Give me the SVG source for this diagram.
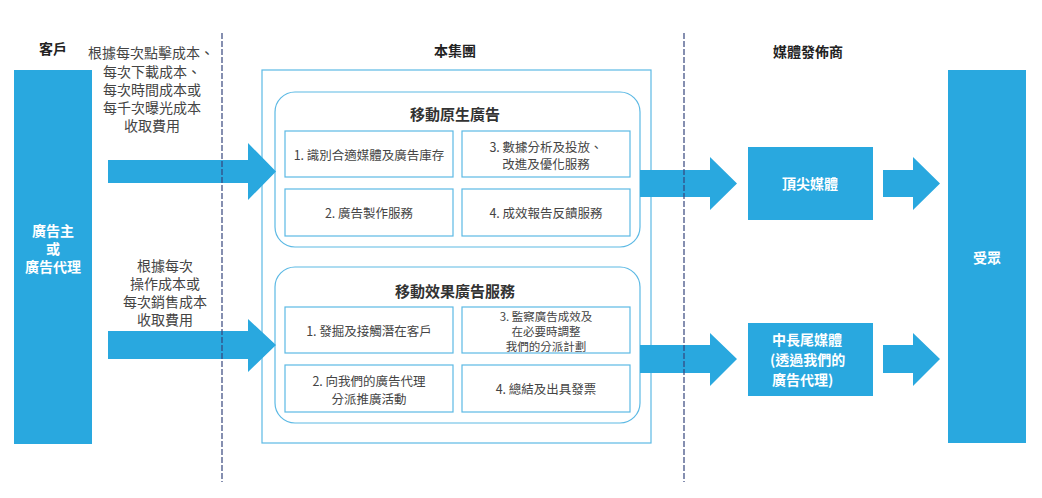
<svg xmlns="http://www.w3.org/2000/svg" width="1042" height="498" viewBox="0 0 1042 498">
<style>
text{font-family:"Noto Sans CJK TC","Noto Sans CJK SC",sans-serif;text-anchor:middle;dominant-baseline:central}
.hdr{font-size:14px;font-weight:bold;fill:#222}
.lbl{font-size:14px;fill:#444}
.wt{font-size:14px;font-weight:bold;fill:#fff}
.bx{fill:#fff;stroke:#5cb9e4;stroke-width:1.2}
.bt{font-size:12.5px;fill:#444}
.bs{font-size:11.5px;fill:#444}
.tt{font-size:15px;font-weight:bold;fill:#333}
.blue{fill:#29a8df}
.sep{stroke:#35457c;stroke-width:1.2;stroke-dasharray:6 2;fill:none}
</style>
<rect width="1042" height="498" fill="#fff"/>
<g id="headers">
<text class="hdr" x="53" y="48">客戶</text>
<text class="hdr" x="455" y="50">本集團</text>
<text class="hdr" x="808" y="51">媒體發佈商</text>
</g>
<g id="client">
<rect class="blue" x="14" y="70" width="78" height="374"/>
<text class="wt" x="53" y="230">廣告主</text>
<text class="wt" x="53" y="248">或</text>
<text class="wt" x="53" y="266">廣告代理</text>
</g>
<g id="fee-labels">
<text class="lbl" x="151" y="52">根據每次點擊成本、</text>
<text class="lbl" x="152" y="71">每次下載成本、</text>
<text class="lbl" x="152" y="89">每次時間成本或</text>
<text class="lbl" x="152" y="107">每千次曝光成本</text>
<text class="lbl" x="152" y="125">收取費用</text>
<text class="lbl" x="165" y="265">根據每次</text>
<text class="lbl" x="165" y="283">操作成本或</text>
<text class="lbl" x="165" y="301">每次銷售成本</text>
<text class="lbl" x="165" y="319">收取費用</text>
</g>
<g id="group">
<rect x="262" y="70" width="389" height="373" fill="none" stroke="#5cb9e4" stroke-width="1.2"/>
</g>
<g id="native">
<rect x="275" y="92" width="365" height="155" rx="20" fill="#fff" stroke="#5cb9e4" stroke-width="1.2"/>
<text class="tt" x="455" y="113">移動原生廣告</text>
<rect class="bx" x="285" y="131" width="168" height="46"/>
<text class="bt" x="369" y="154">1. 識別合適媒體及廣告庫存</text>
<rect class="bx" x="462" y="131" width="168" height="46"/>
<text class="bt" x="546" y="146">3. 數據分析及投放、</text>
<text class="bt" x="546" y="163">改進及優化服務</text>
<rect class="bx" x="285" y="189" width="168" height="47"/>
<text class="bt" x="369" y="212">2. 廣告製作服務</text>
<rect class="bx" x="462" y="189" width="168" height="47"/>
<text class="bt" x="546" y="212">4. 成效報告反饋服務</text>
</g>
<g id="performance">
<rect x="275" y="267" width="365" height="156" rx="20" fill="#fff" stroke="#5cb9e4" stroke-width="1.2"/>
<text class="tt" x="455" y="290">移動效果廣告服務</text>
<rect class="bx" x="285" y="307" width="168" height="46"/>
<text class="bt" x="369" y="330">1. 發掘及接觸潛在客戶</text>
<rect class="bx" x="462" y="307" width="168" height="46"/>
<text class="bs" x="546" y="315.5">3. 監察廣告成效及</text>
<text class="bs" x="546" y="330.5">在必要時調整</text>
<text class="bs" x="546" y="345.5">我們的分派計劃</text>
<rect class="bx" x="285" y="365" width="168" height="47"/>
<text class="bt" x="369" y="380.5">2. 向我們的廣告代理</text>
<text class="bt" x="369" y="398">分派推廣活動</text>
<rect class="bx" x="462" y="365" width="168" height="47"/>
<text class="bt" x="546" y="388">4. 總結及出具發票</text>
</g>
<g id="top-media">
<rect class="blue" x="748" y="147" width="125" height="73"/>
<text class="wt" x="810" y="183">頂尖媒體</text>
</g>
<g id="longtail-media">
<rect class="blue" x="748" y="323" width="125" height="73"/>
<text class="wt" x="772" y="339" style="text-anchor:start">中長尾媒體</text>
<text class="wt" x="770" y="359" style="text-anchor:start">(透過我們的</text>
<text class="wt" x="772" y="379" style="text-anchor:start">廣告代理)</text>
</g>
<g id="audience">
<rect class="blue" x="948" y="70" width="78" height="373"/>
<text class="wt" x="987" y="257">受眾</text>
</g>
<g id="connectors">
<polygon class="blue" points="108,160 248,160 248,143 276,171.5 248,200 248,183 108,183"/>
<polygon class="blue" points="108,331 248,331 248,319 276,345 248,372 248,359 108,359"/>
<polygon class="blue" points="640,170 710,170 710,157 737,183.5 710,210 710,197 640,197"/>
<polygon class="blue" points="883,170 913,170 913,157 940,183.5 913,210 913,197 883,197"/>
<polygon class="blue" points="640,345 710,345 710,333 737,359 710,386 710,373 640,373"/>
<polygon class="blue" points="883,345 913,345 913,333 940,359 913,386 913,373 883,373"/>
</g>
<g id="separators">
<line class="sep" x1="222" y1="33" x2="222" y2="482"/>
<line class="sep" x1="684" y1="33" x2="684" y2="482"/>
</g>
</svg>
